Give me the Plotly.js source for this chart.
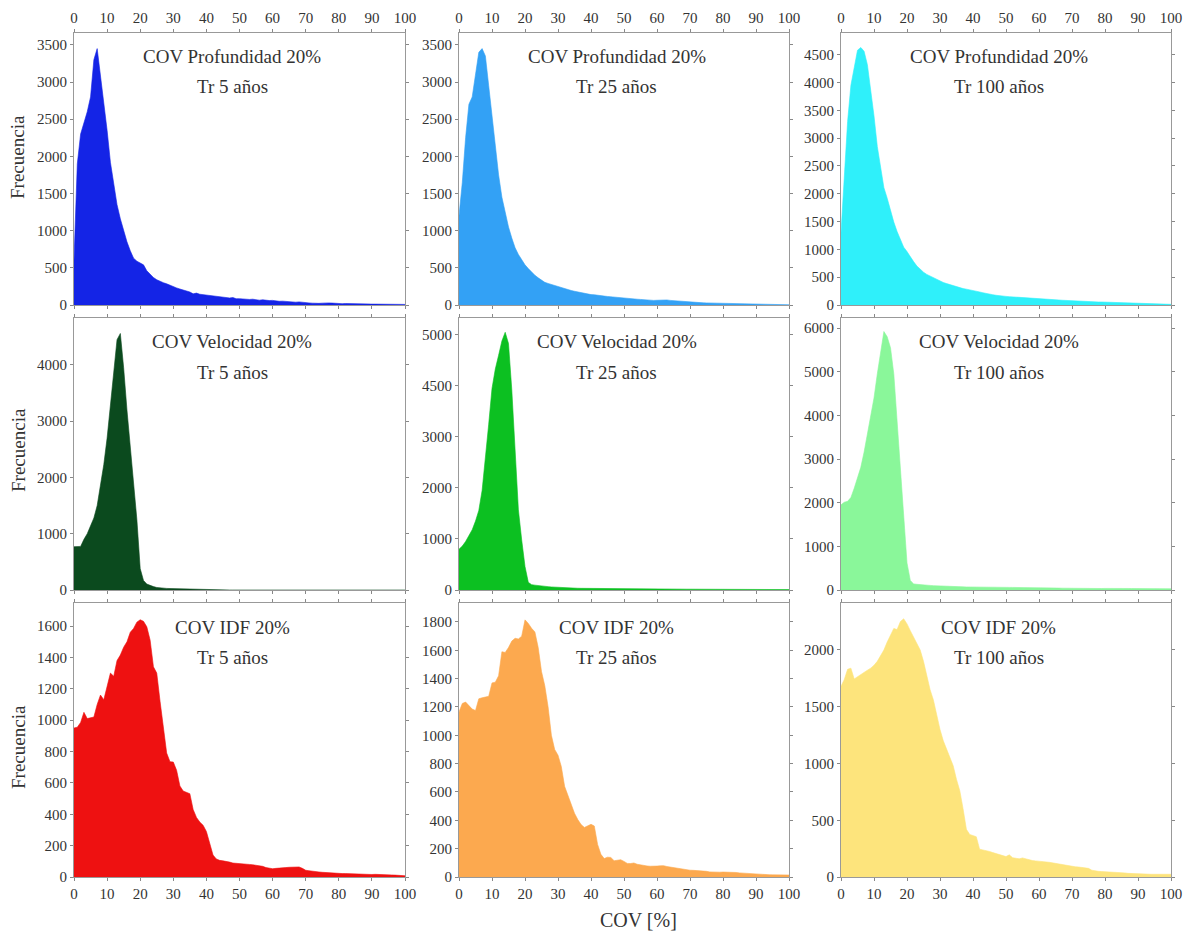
<!DOCTYPE html>
<html><head><meta charset="utf-8">
<script src="https://cdn.plot.ly/plotly-3.0.1.min.js"></script>
<style>html,body{margin:0;padding:0;background:#fff}</style>
</head><body><div id="chart" style="width:1189px;height:931px"></div>
<script>
// x values: COV [%]
const COV = [0,1,2,3,4,5,6,7,8,9,10,11,12,13,14,15,16,17,18,19,20,21,22,23,24,25,26,27,28,29,30,31,32,33,34,35,36,37,38,39,40,41,42,43,44,45,46,47,48,49,50,51,52,53,54,55,56,57,58,59,60,61,62,63,64,65,66,67,68,69,70,71,72,73,74,75,76,77,78,79,80,81,82,83,84,85,86,87,88,89,90,91,92,93,94,95,96,97,98,99,100];
const XTICKS = [0,10,20,30,40,50,60,70,80,90,100];

// Frecuencia - COV Profundidad 20%
const prof_tr5 = [600,1900,2300,2450,2600,2800,3300,3450,3100,2720,2350,1920,1600,1350,1160,1000,850,730,630,590,570,540,460,410,370,340,315,300,285,265,240,230,215,205,190,175,150,160,145,140,135,125,120,115,110,105,100,95,100,85,85,80,80,75,78,70,65,70,62,60,62,55,50,52,48,40,32,38,42,35,30,28,25,20,22,25,22,28,26,22,20,18,20,18,15,16,15,14,15,12,12,12,11,10,10,10,9,9,8,8,8];
const prof_tr25 = [1200,1650,2250,2700,2800,3100,3400,3450,3350,2950,2550,2100,1750,1450,1250,1050,900,770,680,610,540,490,440,400,365,335,305,290,275,265,245,230,215,200,195,185,175,165,150,145,140,138,135,125,120,115,110,105,102,100,98,92,88,82,78,75,70,66,64,62,64,68,70,68,62,58,55,52,48,42,40,36,33,30,29,28,27,26,26,24,22,20,18,17,16,15,14,13,12,12,11,10,10,9,8,8,7,6,5,4,3];
const prof_tr100 = [1300,2300,3300,3950,4300,4580,4630,4560,4320,3900,3400,2850,2450,2110,1920,1680,1490,1320,1180,1040,960,860,780,700,640,590,550,520,490,460,430,405,385,365,345,325,310,295,285,275,265,250,235,220,205,195,185,175,165,160,155,150,145,140,135,132,128,124,120,118,115,112,108,104,100,95,90,86,82,78,74,70,66,62,60,58,56,55,54,54,52,50,48,46,44,42,42,40,40,42,38,34,30,28,26,24,22,20,18,15,12];

// Frecuencia - COV Velocidad 20%
const vel_tr5 = [770,770,775,900,1000,1140,1280,1500,1860,2230,2700,3250,3900,4450,4560,3950,3200,2550,1800,1250,380,170,105,80,60,45,36,32,28,26,24,24,22,24,22,18,16,14,12,10,5,0,0,0,0,0,0,0,0,0,0,0,0,0,0,0,0,0,0,0,0,0,0,0,0,0,0,0,0,0,0,0,0,0,0,0,0,0,0,0,0,0,0,0,0,0,0,0,0,0,0,0,0,0,0,0,0,0,0,0,0];
const vel_tr25 = [800,860,950,1060,1180,1350,1560,1950,2550,3250,3950,4330,4600,4880,5050,4830,3920,2750,1570,980,460,150,105,95,85,78,72,66,60,55,50,45,42,40,38,36,34,33,32,31,30,29,28,28,27,27,26,26,25,25,24,24,23,23,22,22,22,21,21,20,20,20,19,19,18,18,18,17,17,16,16,16,15,15,15,14,14,14,13,13,13,12,12,12,12,11,11,11,11,10,10,10,10,9,9,9,9,8,8,8,8];
const vel_tr100 = [1950,2010,2030,2120,2330,2550,2810,3160,3550,3930,4400,4950,5480,5920,5800,5550,4950,3850,2650,1500,620,220,140,130,120,115,110,105,100,95,92,88,85,82,78,76,74,72,70,68,66,65,64,63,62,61,61,60,60,60,60,60,59,59,60,60,58,57,56,55,54,52,50,48,47,46,44,42,40,38,36,35,34,33,32,31,30,32,33,34,36,38,38,37,38,38,36,35,34,33,32,32,31,31,30,31,30,30,29,28,28];

// Frecuencia - COV IDF 20%
const idf_tr5 = [950,955,985,1050,1010,1015,1020,1100,1160,1130,1210,1300,1280,1380,1415,1465,1500,1560,1585,1625,1640,1630,1595,1510,1340,1300,1120,940,790,735,733,680,580,548,541,531,430,380,350,330,290,220,140,115,106,103,100,95,89,88,85,83,81,80,78,75,72,68,60,56,53,55,58,60,60,62,62,60,64,55,43,40,36,34,32,30,28,27,26,25,24,22,22,21,20,18,16,15,15,14,16,17,17,17,16,15,13,12,10,9,8];
const idf_tr25 = [1165,1225,1235,1210,1185,1175,1258,1265,1268,1275,1370,1375,1420,1590,1585,1620,1665,1685,1680,1700,1815,1790,1755,1730,1620,1450,1350,1200,1000,900,860,780,640,575,510,450,405,370,350,362,372,360,230,160,130,140,138,115,118,122,110,96,95,99,90,85,80,78,76,75,77,79,80,74,70,66,60,56,52,50,48,47,46,45,44,40,36,34,33,34,35,35,35,35,32,29,27,25,24,22,20,19,18,17,16,15,15,15,14,14,14];
const idf_tr100 = [1680,1740,1830,1840,1745,1765,1790,1810,1822,1840,1865,1900,1950,2000,2070,2130,2190,2180,2250,2275,2230,2170,2110,2060,2000,1900,1760,1650,1560,1420,1300,1200,1130,1050,980,860,760,600,420,375,365,355,245,240,235,225,215,205,195,185,180,195,170,165,160,168,160,150,145,142,140,135,132,130,125,120,112,105,100,98,95,90,88,84,80,76,60,52,50,48,47,46,46,45,44,40,36,32,30,28,27,26,25,25,24,24,24,24,24,24,24];

const TITLE_TOP = ["COV Profundidad 20%","COV Velocidad 20%","COV IDF 20%"];
const TITLE_TR = ["Tr 5 años","Tr 25 años","Tr 100 años"];
const Y_TITLE = "Frecuencia";
const X_TITLE = "COV [%]";

const SERIES = [prof_tr5, prof_tr25, prof_tr100, vel_tr5, vel_tr25, vel_tr100, idf_tr5, idf_tr25, idf_tr100];
const COLORS = ['#1424e6','#33a1f5','#2ff0fa','#0b4a1e','#0cc021','#8af79a','#ee1111','#fca94f','#fde47c'];
const YMAX = [3660,3660,4890,4835,5330,6230,1747,1934,2414];
const YTICKVALS = [
  [0,500,1000,1500,2000,2500,3000,3500],
  [0,500,1000,1500,2000,2500,3000,3500],
  [0,500,1000,1500,2000,2500,3000,3500,4000,4500],
  [0,1000,2000,3000,4000],
  [0,1000,2000,3000,4000,5000],
  [0,1000,2000,3000,4000,5000,6000],
  [0,200,400,600,800,1000,1200,1400,1600],
  [0,200,400,600,800,1000,1200,1400,1600,1800],
  [0,500,1000,1500,2000]
];
const YTICKTEXT = [null,null,null,null,['0','1000','2000','3000','4500','5000'],null,null,null,null];

const W = 1189, H = 931;
const colPx = [[74,405],[459,789],[841,1171]];
const rowPx = [[33,305],[318,590],[603,877]];

const FONT = 'Liberation Serif, Times New Roman, serif';
const data = [];
const layout = {
  width: W, height: H,
  margin: {l:0, r:0, t:0, b:0},
  paper_bgcolor: '#ffffff', plot_bgcolor: '#ffffff',
  showlegend: false,
  font: {family: FONT, color: '#333333', size: 15},
  annotations: []
};

for (let i = 0; i < 9; i++) {
  const r = Math.floor(i / 3), c = i % 3;
  const n = i + 1;
  const xa = 'x' + (n === 1 ? '' : n), ya = 'y' + (n === 1 ? '' : n);
  data.push({
    x: COV, y: SERIES[i], xaxis: xa, yaxis: ya,
    type: 'scatter', mode: 'lines', fill: 'tozeroy',
    fillcolor: COLORS[i], line: {color: COLORS[i], width: 0.6},
    hoverinfo: 'skip'
  });
  const xk = 'xaxis' + (n === 1 ? '' : n), yk = 'yaxis' + (n === 1 ? '' : n);
  layout[xk] = {
    domain: [colPx[c][0] / W, colPx[c][1] / W],
    anchor: ya, range: [0, 100], tickvals: XTICKS,
    side: r === 0 ? 'top' : 'bottom',
    showticklabels: r !== 1,
    ticks: 'outside', ticklen: 3, tickcolor: '#888', tickwidth: 1,
    showline: true, linecolor: '#999', linewidth: 1, mirror: 'ticks',
    showgrid: false, zeroline: false,
    tickfont: {family: FONT, size: 15, color: '#333'}
  };
  const ya_obj = {
    domain: [1 - rowPx[r][1] / H, 1 - rowPx[r][0] / H],
    anchor: xa, range: [0, YMAX[i]], tickvals: YTICKVALS[i],
    ticks: 'outside', ticklen: 3, tickcolor: '#888', tickwidth: 1,
    showline: true, linecolor: '#999', linewidth: 1, mirror: 'ticks',
    showgrid: false, zeroline: false,
    tickfont: {family: FONT, size: 15, color: '#333'}
  };
  if (YTICKTEXT[i]) ya_obj.ticktext = YTICKTEXT[i];
  layout[yk] = ya_obj;

  layout.annotations.push({
    text: TITLE_TOP[r], xref: xa + ' domain', yref: 'paper',
    x: 0.478, y: 1 - (rowPx[r][0] + 24) / H, xanchor: 'center', yanchor: 'middle',
    showarrow: false, font: {family: FONT, size: 19, color: '#333'}
  });
  layout.annotations.push({
    text: TITLE_TR[c], xref: xa + ' domain', yref: 'paper',
    x: 0.478, y: 1 - (rowPx[r][0] + 54) / H, xanchor: 'center', yanchor: 'middle',
    showarrow: false, font: {family: FONT, size: 19, color: '#333'}
  });
}

const yTitleCenters = [157, 450, 747];
for (let r = 0; r < 3; r++) {
  layout.annotations.push({
    text: Y_TITLE, xref: 'paper', yref: 'paper',
    x: 18 / W, y: 1 - yTitleCenters[r] / H, xanchor: 'center', yanchor: 'middle',
    textangle: -90, showarrow: false, font: {family: FONT, size: 19, color: '#333'}
  });
}
layout.annotations.push({
  text: X_TITLE, xref: 'paper', yref: 'paper',
  x: 638 / W, y: 1 - 920 / H, xanchor: 'center', yanchor: 'middle',
  showarrow: false, font: {family: FONT, size: 20, color: '#333'}
});

Plotly.newPlot('chart', data, layout, {displayModeBar: false, staticPlot: true});
</script>
</body></html>
